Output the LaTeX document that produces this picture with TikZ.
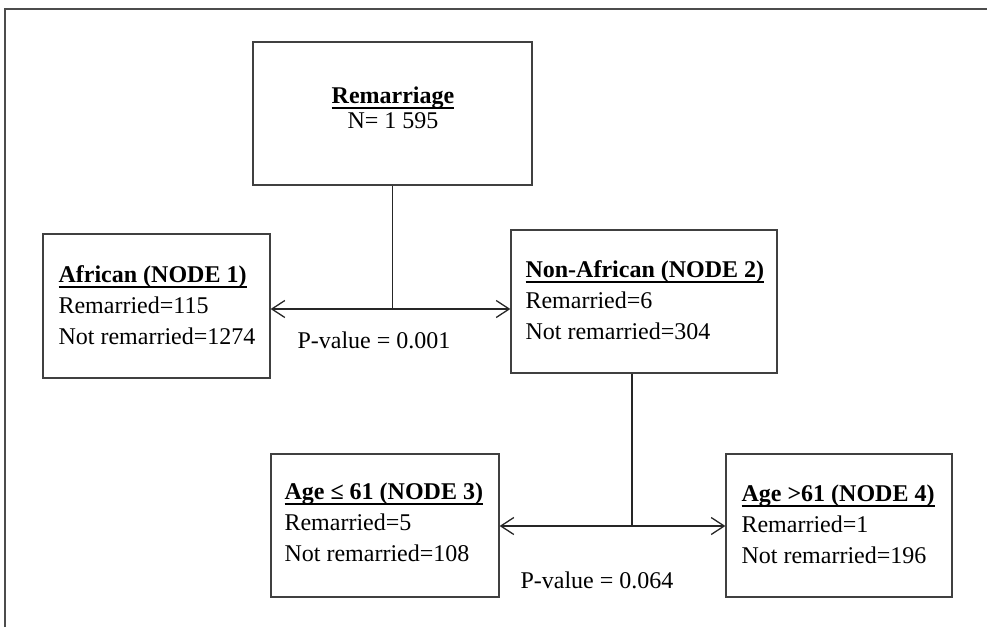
\documentclass[tikz,border=0pt]{standalone}
\usepackage{fontspec}
\setmainfont{Liberation Serif}
\usetikzlibrary{arrows.meta, positioning, calc}
\newcommand{\hd}[1]{\setbox0\hbox{\textbf{#1}}\rlap{\rule[-5.5pt]{\wd0}{1.8pt}}\box0}

\begin{document}
\begin{tikzpicture}[x=1pt, y=-1pt, font=\fontsize{24}{31}\selectfont,
  box/.style={draw=black!75, line width=1.3pt, inner sep=0pt},
  txt/.style={inner sep=0pt, align=left, anchor=base west},
  link/.style={draw=black!85, line width=1.3pt},
  >={Straight Barb[length=13pt, width=17pt]}]
  \useasboundingbox (0,0) rectangle (987,627);
  % ================================================================
  % frame
  % ================================================================
  \draw[black!70, line width=1.5pt] (5,627) -- (5,9) -- (987,9);
  % ================================================================
  % boxes
  % ================================================================
  \node[box, minimum width=279, minimum height=143] (n0) at (392.5,113.5) {};
  \node[box, minimum width=227, minimum height=144] (n1) at (156.5,306) {};
  \node[box, minimum width=266, minimum height=143] (n2) at (644,301.5) {};
  \node[box, minimum width=228, minimum height=143] (n3) at (385,525.5) {};
  \node[box, minimum width=226, minimum height=143] (n4) at (839,525.5) {};
  % texts (base = last line) ---------------------------------------
  \node[txt, anchor=base, align=center] (t0) at (393,128) {\hd{Remarriage}\\[-6pt]N= 1 595};
  \node[txt] (t1) at ($(n1.north west)+(16,111)$) {\hd{African (NODE 1)}\\Remarried=115\\Not remarried=1274};
  \node[txt] (t2) at ($(n2.north west)+(15,110)$) {\hd{Non-African (NODE 2)}\\Remarried=6\\Not remarried=304};
  \node[txt] (t3) at ($(n3.north west)+(14,108)$) {\hd{Age ≤ 61 (NODE 3)}\\Remarried=5\\Not remarried=108};
  \node[txt] (t4) at ($(n4.north west)+(16,110)$) {\hd{Age >61 (NODE 4)}\\Remarried=1\\Not remarried=196};
  % ================================================================
  % splits
  % ================================================================
  \coordinate (j1) at (n0.south |- 0,309);
  \coordinate (j2) at (632,526);
  \draw[link] (n0.south) -- (j1);
  \draw[link, <->] (n1.east |- j1) -- (n2.west |- j1);
  \draw[link] (n2.south -| j2) -- (j2);
  \draw[link, <->] (n3.east |- j2) -- (n4.west |- j2);
  % p-values -------------------------------------------------------
  \node[txt, anchor=base] (p1) at (374,348) {P-value = 0.001};
  \node[txt, anchor=base] (p2) at (597,588) {P-value = 0.064};
\end{tikzpicture}
\end{document}
